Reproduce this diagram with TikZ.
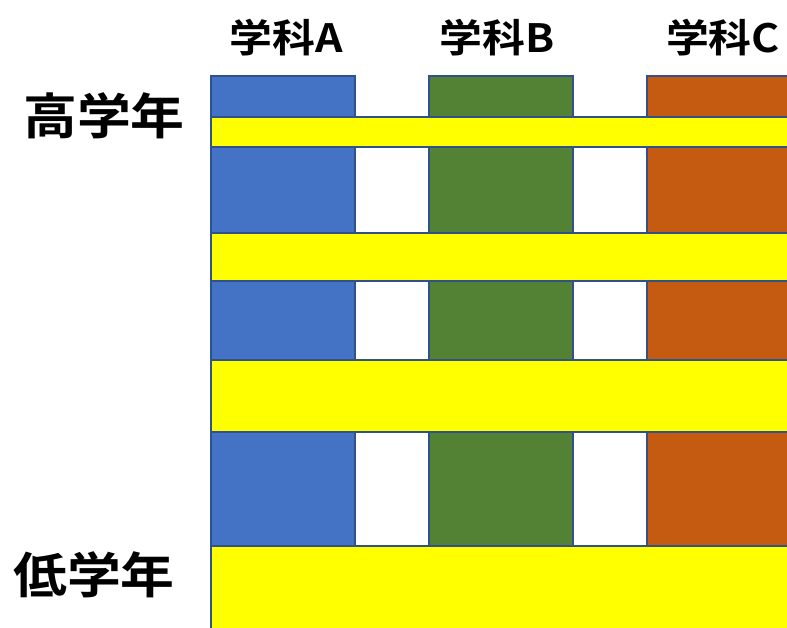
\documentclass[tikz,border=0pt]{standalone}
\usepackage{fontspec}
\newfontfamily\jpfont[FakeStretch=1.1]{Noto Sans CJK JP Bold}
\definecolor{colA}{HTML}{4472C4}
\definecolor{colB}{HTML}{548235}
\definecolor{colC}{HTML}{C55A11}
\definecolor{edge}{HTML}{2F528F}
\definecolor{bar}{HTML}{FFFF00}
\tikzset{
  colbox/.style={draw=edge, line width=1.6pt},
  barbox/.style={draw=edge, fill=bar, line width=1.6pt},
  head/.style={font=\jpfont\fontsize{39}{42}\selectfont, inner sep=0pt},
  rowlab/.style={font=\jpfont\fontsize{49}{52}\selectfont, inner sep=0pt}
}
\begin{document}
\begin{tikzpicture}[x=1pt,y=-1pt]
\useasboundingbox (0,0) rectangle (787,627);
\begin{scope}
\clip (0,0) rectangle (787,627);
\fill[white] (0,0) rectangle (787,627);
\draw[colbox, fill=colA] (211,76) rectangle (355,546);
\draw[colbox, fill=colB] (429,76) rectangle (573,546);
\draw[colbox, fill=colC] (647,76) rectangle (800,546);
\draw[barbox] (211,117) rectangle (800,147);
\draw[barbox] (211,233) rectangle (800,281);
\draw[barbox] (211,360) rectangle (800,432);
\draw[barbox] (211,546) rectangle (800,640);
\end{scope}
\node[head] (hA) at (286,38) {学科A};
\node[head] (hB) at (497,38) {学科B};
\node[head] (hC) at (723,38) {学科C};
\node[rowlab] (hi) at (104,116) {高学年};
\node[rowlab] (lo) at (94,575) {低学年};
\end{tikzpicture}
\end{document}
